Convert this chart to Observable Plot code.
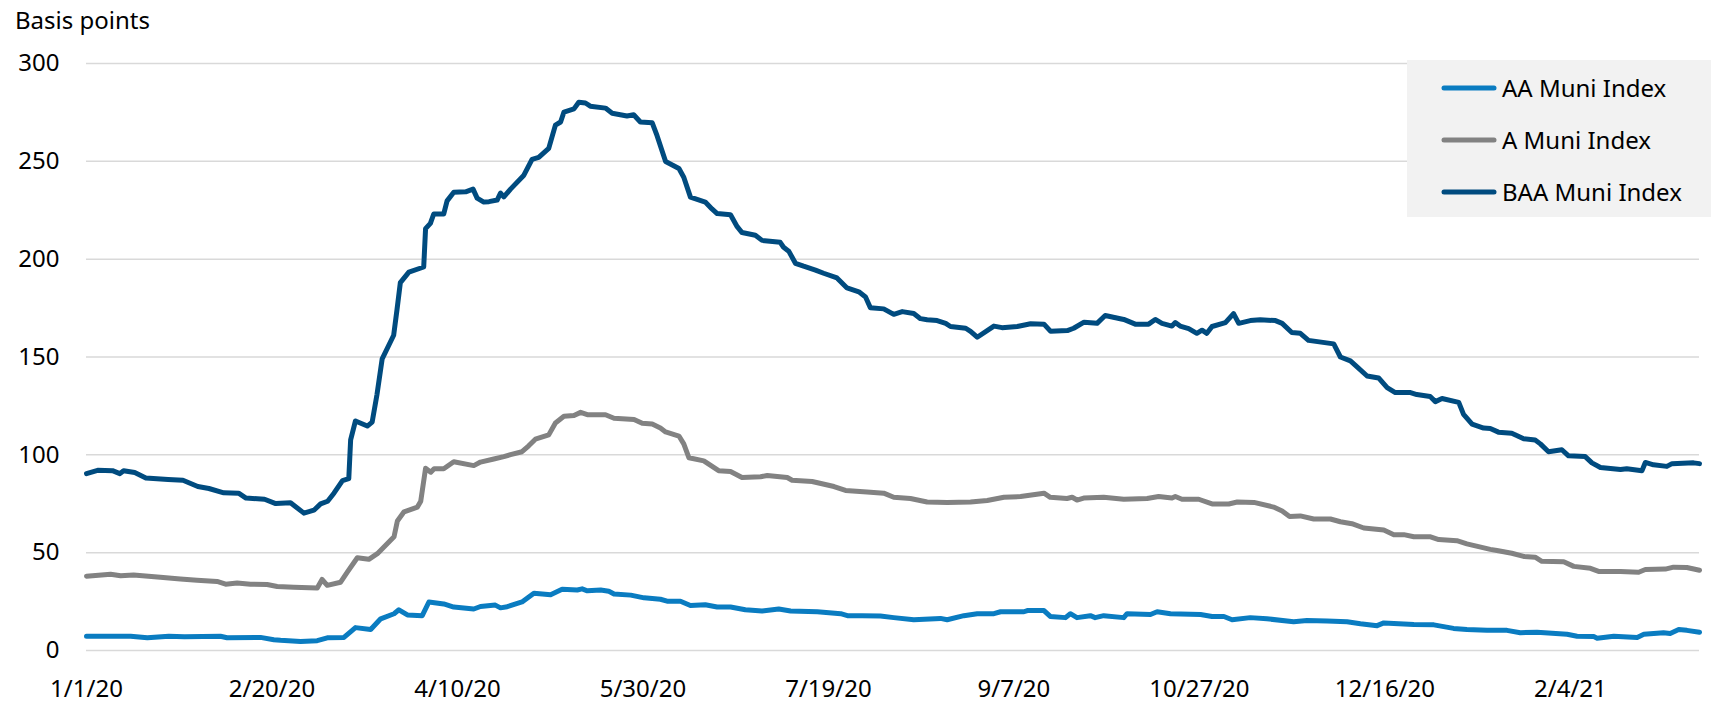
<!DOCTYPE html>
<html>
<head>
<meta charset="utf-8">
<script src="https://cdn.jsdelivr.net/npm/d3@7"></script>
<script src="https://cdn.jsdelivr.net/npm/@observablehq/plot@0.6"></script>
<style>
  html, body { margin: 0; padding: 0; background: #fff; }
  body { width: 1711px; height: 704px; position: relative; overflow: hidden; font-family: "Noto Sans", sans-serif; color: #000; }
  #title { height: 40px; box-sizing: border-box; padding: 8px 0 0 15px; font-size: 24px; line-height: 24px; }
  #chart svg { display: block; }
  #legend { position: absolute; left: 1407px; top: 60px; width: 304px; height: 157px; background: #f2f2f2; }
  .row { position: absolute; left: 34px; height: 24px; display: flex; align-items: center; font-size: 24px; line-height: 24px; }
  .row svg { display: block; margin-right: 5px; }
</style>
</head>
<body>
<div id="title"></div>
<div id="chart"></div>
<div id="legend"></div>
<script>
// Series: [days since 1/1/20, basis points]
const aaSeries = [[0,7.3],[11.9,7.3],[16.4,6.5],[22.2,7.3],[26.4,7],[36.1,7.3],[37.9,6.5],[46.9,6.7],[50.5,5.5],[52.3,5.2],[57.7,4.6],[62.2,5],[64.9,6.5],[69.4,6.7],[72.5,11.7],[76.6,10.7],[79.3,16.2],[82.9,18.8],[84.2,20.8],[86.5,18.2],[90.5,17.8],[92.3,24.8],[96.3,23.8],[99,22.2],[104.4,21.2],[106.2,22.5],[110.2,23.2],[111.6,21.8],[113.4,22.4],[117.4,24.8],[120.6,29.3],[125.1,28.5],[128.2,31.3],[132.3,30.9],[133.6,31.5],[135,30.5],[138.6,30.9],[140.8,30.3],[142.2,28.9],[146.7,28.3],[150.3,26.9],[154.7,26.2],[156.5,25.2],[160.1,25.2],[162.8,23],[166.8,23.4],[170,22.2],[173.6,22.2],[177.6,20.8],[182.1,20.2],[186.6,21.2],[189.8,20.2],[197,19.8],[203.3,18.8],[205.1,17.8],[209.1,17.8],[214,17.6],[217.6,16.8],[223,15.7],[230.2,16.4],[232,15.7],[236.5,17.8],[240.1,18.8],[244.6,18.8],[246.4,19.8],[252.7,19.8],[253.6,20.4],[258.1,20.4],[259.8,17.4],[263.9,16.8],[265.2,18.8],[267,16.8],[270.6,17.8],[271.9,16.8],[274.2,17.8],[279.6,16.8],[280.5,18.8],[286.8,18.4],[288.6,19.8],[292.2,18.8],[300.3,18.4],[303.4,17.4],[306.6,17.4],[308.8,15.7],[313.7,16.8],[318.2,16.2],[325.4,14.7],[329,15.3],[334.4,15.1],[339.8,14.7],[343.4,13.7],[347.9,12.7],[349.7,14.1],[357.8,13.3],[363.2,13.1],[368.5,11.3],[372.1,10.7],[377.5,10.3],[382.9,10.3],[386.5,9.1],[391,9.3],[399.1,8.3],[401.8,7.3],[406.3,7.1],[407.2,6.3],[411.7,7.3],[418,6.7],[419.8,8.3],[425.1,9.1],[426.9,8.7],[429.2,10.7],[431.4,10.3],[434.8,9.3]];

const aSeries = [[0,38],[6.5,39],[9.2,38.2],[12.7,38.6],[19.9,37.4],[25.3,36.5],[29.8,35.9],[35.2,35.3],[37.5,33.9],[40.6,34.5],[44.2,33.9],[48.7,33.7],[51.4,32.7],[55.9,32.3],[62.2,31.9],[63.5,36.3],[64.9,33.3],[68.5,34.9],[70.3,40],[73,47.4],[76.1,46.6],[78.4,49.5],[82.9,58.1],[83.8,66.2],[85.6,70.9],[89.2,73.3],[90.1,76.3],[91.4,93.1],[92.8,91.1],[93.7,92.9],[96.3,92.9],[99,96.5],[104.4,94.5],[106.2,96.3],[109.8,97.9],[112.5,99.1],[114.3,100.1],[117.4,101.6],[119.2,104.6],[121,108],[124.6,110.2],[126.4,116.3],[128.7,119.7],[131.4,120.1],[133.2,121.7],[135,120.5],[139.9,120.5],[142.2,118.7],[147.6,118.1],[149.8,116.1],[152.5,115.7],[154.7,113.7],[156.1,111.7],[159.7,109.6],[161,105.6],[162.4,98.5],[166.4,96.9],[170.4,91.9],[173.6,91.5],[176.7,88.4],[181.7,88.8],[183.5,89.4],[188.9,88.4],[190.2,87],[195.6,86.4],[201.5,83.8],[204.6,81.8],[210.4,81],[214.9,80.4],[217.6,78.3],[222.1,77.7],[226.6,75.9],[232,75.7],[238.3,75.9],[242.8,76.7],[247.3,78.3],[251.8,78.7],[258.1,80.4],[259.8,78.3],[264.3,77.7],[265.7,78.3],[267,76.9],[268.8,77.9],[274.2,78.3],[279.6,77.3],[285.9,77.7],[289,78.7],[292.6,77.9],[293.5,78.7],[295.3,77.3],[299.8,77.3],[303.4,74.9],[307.9,74.9],[310.2,75.9],[314.7,75.7],[320,73.3],[322.3,71.3],[324.3,68.5],[327.2,68.8],[330.8,67.2],[335.3,67.2],[338,65.8],[341.1,64.8],[344.3,62.6],[349.7,61.6],[352.4,59.2],[355.1,59.2],[357.8,58.1],[362.3,58.1],[364.5,56.7],[369.4,56.1],[372.1,54.5],[378.4,51.7],[380.2,51.1],[384.2,49.7],[387.4,48.1],[390.5,47.7],[392.3,45.6],[398.2,45.4],[400.9,43],[405.4,42],[407.6,40.4],[413.5,40.4],[418.4,40],[420.2,41.4],[425.6,41.6],[427.8,42.6],[431.4,42.4],[434.8,41]];

const baaSeries = [[0,90.4],[3,92.1],[7,91.9],[9,90.4],[10,91.9],[13,91],[16,88.2],[22,87.4],[26,87],[30,83.8],[33,82.8],[37,80.6],[41,80.4],[43,77.9],[48,77.3],[51,75.1],[55,75.5],[58.6,70.2],[61.3,71.7],[63.1,74.9],[65,76.3],[66.7,80.4],[69,86.8],[70.7,87.8],[71.2,107.6],[72.5,117.3],[75.7,114.7],[77,116.7],[78.3,130.8],[79.7,149],[82.8,161.1],[83.7,174.2],[84.6,188],[86.9,193.4],[90.9,196],[91.4,215.6],[92.7,218.3],[93.6,223.1],[96.3,223.1],[97.2,229.8],[99,234.2],[102.2,234.4],[104.2,235.8],[105.3,231.2],[107.1,229.2],[108.5,229.4],[110.7,230.2],[111.6,233.8],[112.5,231.8],[114.3,235.8],[117.9,242.9],[120.1,251],[121.9,252],[124.6,256.6],[126.4,268.5],[127.8,270.1],[128.7,275.2],[131.4,276.8],[132.7,280.2],[134.5,279.8],[135.8,278.2],[139.9,277.2],[141.7,274.6],[145.7,273.2],[147.5,273.8],[149.3,270.1],[152.5,269.7],[153.8,263.1],[156.1,249.9],[159.7,246.3],[161,241.9],[162.8,231.7],[166.8,229.2],[168.6,225.7],[170,223.3],[173.6,222.7],[175.4,216.6],[176.7,213.6],[180.3,212.2],[182.1,209.6],[187,208.6],[187.9,206.1],[189.3,204.1],[191.1,197.9],[193.3,196.4],[196.5,194.4],[198.7,192.8],[202.3,190.4],[205,185.3],[208.2,183.3],[210,180.7],[211.3,175.2],[214.9,174.6],[217.6,171.8],[219.9,173.2],[223,172.2],[224.8,169.6],[226.6,169],[229.3,168.6],[231.6,167.2],[232.9,165.6],[237,164.7],[238.3,163.1],[240.1,160.1],[244.6,165.8],[246.8,165],[250.9,165.6],[254.5,167],[258.1,166.8],[259.9,163.1],[264.4,163.5],[266.1,164.7],[268.9,167.8],[272.4,167.2],[274.6,171.2],[279.6,169.2],[282.7,166.8],[286.3,166.8],[288.1,169.2],[289.9,167.2],[292.6,165.8],[293.5,167.6],[294.8,165.8],[297.1,164.5],[299.3,162.1],[300.7,163.7],[302,162.1],[303.4,165.6],[307,167.6],[309.2,172.2],[310.6,167.2],[313.7,168.6],[316.4,169],[320.5,168.6],[322.3,167.2],[324.9,162.5],[327.2,162.1],[329.4,158.5],[336.2,156.7],[338,150],[340.7,148],[342.5,145],[345.2,140.3],[348.3,139.3],[350.6,134.3],[352.8,131.8],[356.9,131.8],[358.6,130.8],[362.2,129.8],[363.6,127.2],[365.4,128.8],[369.9,126.8],[371.2,120.7],[373.5,115.7],[376.6,113.7],[378.4,113.5],[380.6,111.6],[384.2,111],[387.4,108.2],[390.5,107.6],[391.9,105.6],[394.1,101.6],[397.7,102.6],[399.5,99.5],[404,99.1],[405.8,95.9],[408.1,93.5],[413.5,92.5],[415.2,92.9],[419.3,91.9],[420.2,96.1],[422.4,94.9],[426,94.1],[427.4,95.5],[433.2,95.9],[434.8,95.5]];

const seriesNames = ["AA Muni Index", "A Muni Index", "BAA Muni Index"];
const seriesColors = ["#0a7cc1", "#828282", "#004b7f"];
const startDate = "2020-01-01";
const endDay = 434.8;
const xTickDates = ["2020-01-01", "2020-02-20", "2020-04-10", "2020-05-30", "2020-07-19", "2020-09-07", "2020-10-27", "2020-12-16", "2021-02-04"];
const yTicks = [0, 50, 100, 150, 200, 250, 300];
const yTitle = "Basis points";

const t0 = new Date(startDate).getTime();
const dayToDate = d => new Date(t0 + d * 864e5);
const allSeries = [aaSeries, aSeries, baaSeries];
const data = allSeries.flatMap((s, i) => s.map(([d, v]) => ({series: seriesNames[i], date: dayToDate(d), value: v})));

document.getElementById("title").textContent = yTitle;

const chart = Plot.plot({
  width: 1711,
  height: 664,
  marginLeft: 86,
  marginRight: 12,
  marginTop: 23,
  marginBottom: 54,
  style: {fontFamily: "'Noto Sans', sans-serif", fontSize: "24px", color: "#000", background: "transparent", overflow: "visible"},
  x: {type: "utc", domain: [dayToDate(0), dayToDate(endDay)], ticks: xTickDates.map(s => new Date(s)), tickFormat: d3.utcFormat("%-m/%-d/%y"), tickSize: 0, tickPadding: 29, label: null},
  y: {domain: [0, 300], ticks: yTicks, tickSize: 0, tickPadding: 27, label: null},
  color: {domain: seriesNames, range: seriesColors},
  marks: [
    Plot.gridY(yTicks, {stroke: "#d9d9d9", strokeOpacity: 1, strokeWidth: 1.5}),
    Plot.line(data, {x: "date", y: "value", z: "series", stroke: "series", strokeWidth: 5, strokeLinejoin: "round", strokeLinecap: "round"})
  ]
});
document.getElementById("chart").appendChild(chart);

const legend = document.getElementById("legend");
seriesNames.forEach((name, i) => {
  const row = document.createElement("div");
  row.className = "row";
  row.style.top = (16 + i * 52) + "px";
  row.innerHTML = `<svg width="56" height="10"><line x1="3" y1="5" x2="53" y2="5" stroke="${seriesColors[i]}" stroke-width="5" stroke-linecap="round"/></svg><span>${name}</span>`;
  legend.appendChild(row);
});
</script>
</body>
</html>
